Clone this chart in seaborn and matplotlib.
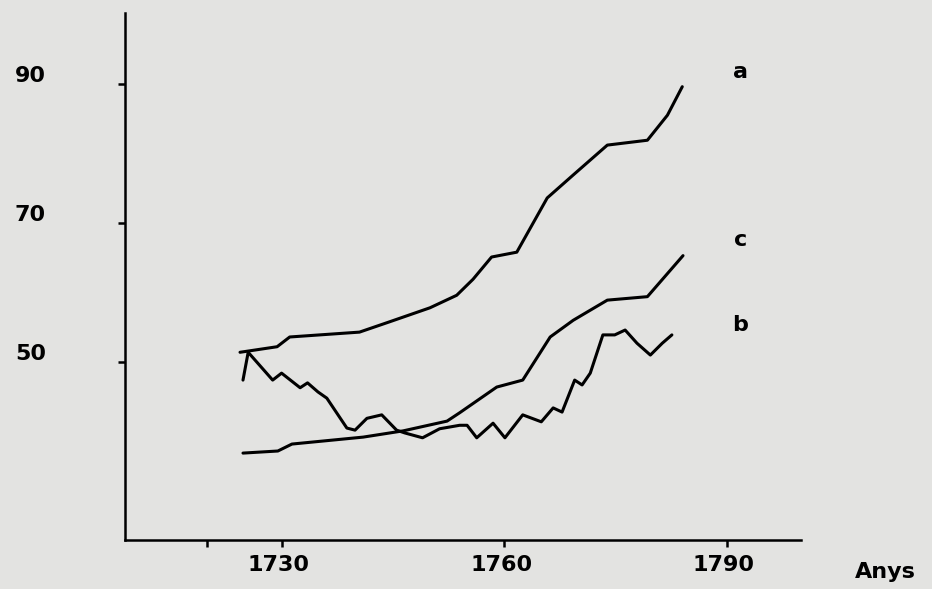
import matplotlib
matplotlib.use("Agg")
import matplotlib.pyplot as plt
import matplotlib.transforms as mtransforms
import numpy as np
import pandas as pd
import seaborn as sns

# ---- data ----
years_a = [1724.4, 1729.4, 1731.1, 1740.5, 1744.6, 1750.0, 1753.6, 1755.8, 1758.3,
           1761.7, 1765.8, 1769.3, 1773.9, 1779.3, 1782.0, 1784.0]
values_a = [51.4, 52.2, 53.6, 54.3, 55.8, 57.8, 59.6, 61.9, 65.1,
            65.8, 73.6, 76.9, 81.2, 81.9, 85.5, 89.6]

years_c = [1724.8, 1729.5, 1731.4, 1741.0, 1746.4, 1752.3, 1754.0, 1759.0, 1762.5,
           1766.2, 1769.3, 1771.2, 1773.9, 1779.3, 1784.1]
values_c = [36.9, 37.2, 38.2, 39.2, 40.1, 41.5, 42.7, 46.4, 47.4,
            53.6, 56.0, 57.2, 58.9, 59.4, 65.3]

years_b = [1724.8, 1725.5, 1728.8, 1730.0, 1732.5, 1733.5, 1734.9, 1736.1, 1738.8,
           1739.9, 1741.5, 1743.5, 1745.5, 1746.6, 1749.0, 1751.3, 1754.0, 1755.0,
           1756.3, 1758.5, 1760.1, 1762.5, 1765.0, 1766.6, 1767.8, 1769.5, 1770.5,
           1771.6, 1773.3, 1774.9, 1776.3, 1777.9, 1779.7, 1781.3, 1782.6]
values_b = [47.4, 51.4, 47.4, 48.4, 46.3, 47.0, 45.7, 44.8, 40.5,
            40.2, 41.9, 42.4, 40.2, 39.8, 39.1, 40.4, 40.9, 40.9,
            39.1, 41.2, 39.1, 42.4, 41.4, 43.4, 42.8, 47.4, 46.7,
            48.4, 53.9, 53.9, 54.6, 52.7, 51.0, 52.7, 53.9]

series_names = ["a", "b", "c"]
y_ticks = [50, 70, 90]
y_tick_labels = ["50", "70", "90"]
x_ticks = [1720, 1730, 1760, 1790]
x_tick_labels = ["", "1730", "1760", "1790"]
x_axis_label = "Anys"

# ---- build table ----
df = pd.concat([
    pd.DataFrame({"year": years_a, "value": values_a, "serie": "a"}),
    pd.DataFrame({"year": years_b, "value": values_b, "serie": "b"}),
    pd.DataFrame({"year": years_c, "value": values_c, "serie": "c"}),
], ignore_index=True)

sns.set_style("ticks")
plt.rcParams["font.family"] = ["DejaVu Sans"]
plt.rcParams["text.color"] = "black"
plt.rcParams["xtick.color"] = "black"
plt.rcParams["ytick.color"] = "black"

bg = "#e3e3e1"
fig = plt.figure(figsize=(9.32, 5.89), dpi=100, facecolor=bg)
ax = fig.add_axes([125 / 932, 1 - 540 / 589, (801 - 125) / 932, (540 - 13) / 589])
ax.set_facecolor(bg)

sns.lineplot(data=df, x="year", y="value", hue="serie", units="serie",
             estimator=None, sort=False,
             palette={"a": "black", "b": "black", "c": "black"},
             linewidth=2.2, legend=False, ax=ax)

ax.set_xlim(1708.9, 1800.0)
ax.set_ylim(24.4, 100.2)

for s in ["top", "right"]:
    ax.spines[s].set_visible(False)
for s in ["left", "bottom"]:
    ax.spines[s].set_linewidth(1.8)
    ax.spines[s].set_color("black")

ax.set_xticks(x_ticks)
ax.set_xticklabels(x_tick_labels, fontsize=16, fontweight="bold", color="black")
ax.set_yticks(y_ticks)
ax.set_yticklabels(y_tick_labels, fontsize=16, fontweight="bold", color="black")
ax.tick_params(axis="x", length=5, width=1.8, pad=6, direction="out", colors="black")
ax.tick_params(axis="y", length=5, width=1.8, pad=52, direction="out", colors="black")
# y tick labels sit a bit above their ticks in the original
offset = mtransforms.ScaledTranslation(0, 10 / 100, fig.dpi_scale_trans)
for lab in ax.get_yticklabels():
    lab.set_transform(lab.get_transform() + offset)
offx = mtransforms.ScaledTranslation(-3 / 100, 0, fig.dpi_scale_trans)
for lab in ax.get_xticklabels():
    lab.set_transform(lab.get_transform() + offx)

ax.set_xlabel("")
ax.set_ylabel("")

# curve labels
label_pos = {"a": (1791.8, 91.7), "c": (1791.8, 67.6), "b": (1791.8, 55.3)}
for name in series_names:
    x, y = label_pos[name]
    ax.text(x, y, name, fontsize=16, fontweight="bold", ha="center", va="center",
            color="black", clip_on=False)

fig.text(855 / 932, 1 - 572 / 589, x_axis_label, fontsize=16, fontweight="bold",
         ha="left", va="center", color="black")

fig.savefig("out.png", dpi=100, facecolor=bg)
